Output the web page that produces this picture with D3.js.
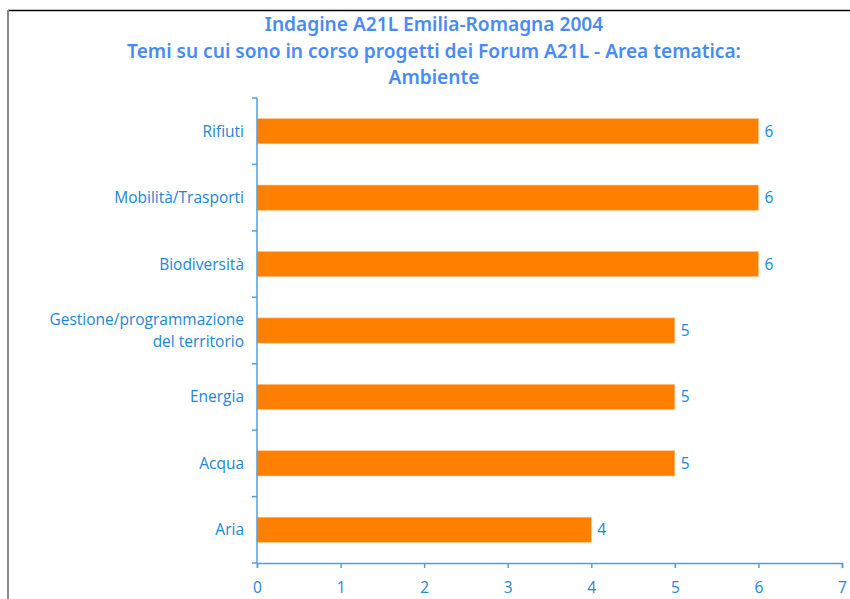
<!DOCTYPE html>
<html>
<head>
<meta charset="utf-8">
<script src="https://cdn.jsdelivr.net/npm/d3@7"></script>
<style>
  body { margin: 0; background: #fff; }
  svg { display: block; }
</style>
</head>
<body>
<div id="chart"></div>
<script>
// chart data
const titleLines = ["Indagine A21L Emilia-Romagna 2004",
                    "Temi su cui sono in corso progetti dei Forum A21L  - Area tematica:",
                    "Ambiente"];
const categories = ["Rifiuti", "Mobilità/Trasporti", "Biodiversità",
                    "Gestione/programmazione\ndel territorio", "Energia", "Acqua", "Aria"];
const values = [6, 6, 6, 5, 5, 5, 4];
const xTicks = [0, 1, 2, 3, 4, 5, 6, 7];

const W = 850, H = 599;
const margin = { top: 98, left: 257, right: 8, bottom: 36 };
const labelBlue = "#2186d6";
const axisBlue = "#4aa2e6";
const font = "'Open Sans', 'Noto Sans', sans-serif";

const svg = d3.select("#chart").append("svg")
    .attr("width", W)
    .attr("height", H);

// frame
svg.append("line").attr("x1", 8).attr("x2", W).attr("y1", 10.5).attr("y2", 10.5)
    .attr("stroke", "#000").attr("stroke-width", 1.5);
svg.append("line").attr("x1", 8).attr("x2", 8).attr("y1", 10).attr("y2", H)
    .attr("stroke", "#888").attr("stroke-width", 2);

// title
const title = svg.append("g").selectAll("text")
    .data(titleLines)
    .enter().append("text")
    .attr("x", 434)
    .attr("y", (d, i) => 31 + i * 26.5)
    .attr("text-anchor", "middle")
    .style("font-family", "'Noto Sans', 'Open Sans', sans-serif")
    .style("font-size", "17px")
    .style("font-weight", 600)
    .style("fill", "#4a8af4")
    .text(d => d);
// scale title font so the long line is about as wide as in the original
const w2 = title.nodes()[1].getComputedTextLength();
title.style("font-size", (17 * 614 / w2).toFixed(2) + "px");

const x = d3.scaleLinear().domain([0, 7]).range([margin.left, W - margin.right]);
const y = d3.scaleBand().domain(categories)
    .range([margin.top, H - margin.bottom])
    .paddingInner(0.62).paddingOuter(0.31);

const y0 = H - margin.bottom;

// bars
svg.append("g").selectAll("rect")
    .data(values)
    .enter().append("rect")
    .attr("x", x(0))
    .attr("y", (d, i) => y(categories[i]))
    .attr("width", d => x(d) - x(0))
    .attr("height", y.bandwidth())
    .style("fill", "#ff7f00")
    .style("stroke", "#ffc98a")
    .style("stroke-width", 0.6);

// value labels
svg.append("g").selectAll("text")
    .data(values)
    .enter().append("text")
    .attr("x", d => x(d) + 6)
    .attr("y", (d, i) => y(categories[i]) + y.bandwidth() / 2 + 5.5)
    .style("font-family", font)
    .style("font-size", "15.5px")
    .style("fill", labelBlue)
    .text(d => d);

// x axis
const xAxis = svg.append("g")
    .attr("transform", `translate(0,${y0})`)
    .call(d3.axisBottom(x).tickValues(xTicks).tickSize(5).tickPadding(14).tickFormat(d3.format("d")));
xAxis.select(".domain").attr("stroke", axisBlue).attr("stroke-width", 1.5);
xAxis.selectAll(".tick line").attr("stroke", axisBlue).attr("stroke-width", 1.5);
xAxis.selectAll(".tick text")
    .style("font-family", font)
    .style("font-size", "15.5px")
    .style("fill", labelBlue);

// y axis: ticks between categories
const yBand = d3.scaleLinear().domain([0, categories.length]).range([margin.top, y0]);
svg.append("line")
    .attr("x1", x(0)).attr("x2", x(0))
    .attr("y1", yBand(0)).attr("y2", yBand(categories.length))
    .attr("stroke", axisBlue).attr("stroke-width", 1.5);
svg.append("g").selectAll("line")
    .data(d3.range(categories.length + 1))
    .enter().append("line")
    .attr("x1", x(0) - 5).attr("x2", x(0))
    .attr("y1", d => yBand(d)).attr("y2", d => yBand(d))
    .attr("stroke", axisBlue).attr("stroke-width", 1.5);

// category labels
const catLabels = svg.append("g").selectAll("text")
    .data(categories)
    .enter().append("text")
    .attr("text-anchor", "end")
    .style("font-family", font)
    .style("font-size", "15.5px")
    .style("fill", labelBlue);
catLabels.each(function(d) {
    const lines = d.split("\n");
    const cy = y(d) + y.bandwidth() / 2;
    const t = d3.select(this);
    lines.forEach((ln, i) => {
        t.append("tspan")
            .attr("x", x(0) - 13)
            .attr("y", cy + 5.5 + (i - (lines.length - 1) / 2) * 22)
            .text(ln);
    });
});
</script>
</body>
</html>
